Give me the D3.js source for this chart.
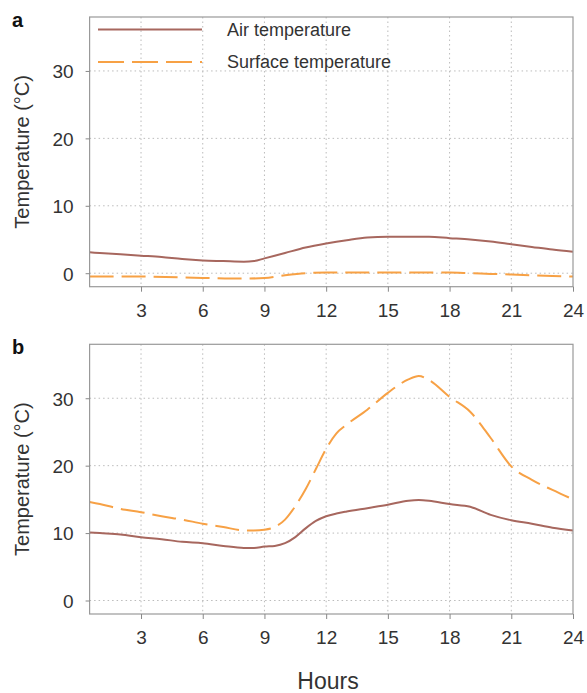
<!DOCTYPE html>
<meta charset="utf-8">
<style>
body { margin: 0; background: #fff; }
svg { font-family: "Liberation Sans", Arial, sans-serif; }
.grid line { stroke: #bbb; stroke-dasharray: 1.5,3; }
.axis path { display: none; }
.axis line { stroke: #888; }
.axis text { fill: #333; font-size: 19px; }
</style>
<body>
<svg id="chart" width="587" height="693"></svg>
<script src="https://cdn.jsdelivr.net/npm/d3@7"></script>
<script>

// hours of day for each series
var hoursAirA  = [0.5, 1, 2, 3, 4, 5, 6, 7, 8, 8.5, 9, 10, 11, 12, 13, 14, 15, 16, 17, 18, 19, 20, 21, 22, 23, 24];
var airA       = [3.1, 3.0, 2.8, 2.6, 2.4, 2.1, 1.9, 1.8, 1.7, 1.8, 2.2, 3.0, 3.8, 4.4, 4.9, 5.3, 5.4, 5.4, 5.4, 5.2, 5.0, 4.7, 4.3, 3.9, 3.5, 3.2];
var hoursSurfA = [0.5, 3, 6, 8, 9, 10, 11, 12, 15, 18, 19, 20, 21, 22, 23, 24];
var surfA      = [-0.5, -0.5, -0.7, -0.8, -0.7, -0.3, 0, 0.1, 0.1, 0.1, 0, -0.1, -0.2, -0.3, -0.4, -0.5];

var hoursB = [0.5, 1, 2, 3, 4, 5, 6, 7, 8, 8.5, 9, 9.5, 10, 10.5, 11, 11.5, 12, 12.5, 13, 14, 15, 16, 16.5, 17, 18, 19, 20, 21, 22, 23, 24];
var airB   = [10.1, 10.0, 9.8, 9.4, 9.1, 8.7, 8.5, 8.1, 7.8, 7.8, 8.0, 8.1, 8.5, 9.4, 10.7, 11.8, 12.5, 12.9, 13.2, 13.7, 14.2, 14.8, 14.9, 14.8, 14.3, 13.9, 12.7, 11.9, 11.4, 10.8, 10.4];
var surfB  = [14.6, 14.3, 13.6, 13.1, 12.5, 12.0, 11.4, 10.9, 10.4, 10.4, 10.5, 10.9, 12.0, 14.0, 16.5, 19.5, 22.5, 24.8, 26.1, 28.3, 30.8, 32.8, 33.3, 32.7, 30.2, 28.0, 24.1, 19.9, 17.9, 16.4, 15.0];

var xTicks = [3, 6, 9, 12, 15, 18, 21, 24];
var yTicks = [0, 10, 20, 30];

var seriesNames = ["Air temperature", "Surface temperature"];
var colors = { "Air temperature": "#a7675e", "Surface temperature": "#f7a145" };
var dashes = { "Air temperature": null, "Surface temperature": "24,8" };

var svg = d3.select("svg#chart");

var left = 89.6, right = 573;

var x = d3.scaleLinear().domain([0.5, 24]).range([left, right]);

function panel(letter, top, bottom, air, hoursAir, surf, hoursSurf, showLegend) {
  var y = d3.scaleLinear().domain([-2, 38]).range([bottom, top]);
  var g = svg.append("g");

  // dotted grid
  var grid = g.append("g").attr("class", "grid");
  grid.selectAll(".gx").data(xTicks.slice(0, -1)).enter().append("line")
      .attr("x1", d => x(d)).attr("x2", d => x(d))
      .attr("y1", top).attr("y2", bottom);
  grid.selectAll(".gy").data(yTicks).enter().append("line")
      .attr("x1", left).attr("x2", right)
      .attr("y1", d => y(d)).attr("y2", d => y(d));

  var line = d3.line().curve(d3.curveMonotoneX)
      .x(d => x(d[0])).y(d => y(d[1]));

  var lines = [
    { name: "Surface temperature", pts: d3.zip(hoursSurf, surf) },
    { name: "Air temperature", pts: d3.zip(hoursAir, air) }
  ];
  g.selectAll(".serie").data(lines).enter().append("path")
      .attr("d", d => line(d.pts))
      .attr("fill", "none")
      .attr("stroke", d => colors[d.name])
      .attr("stroke-width", 2)
      .attr("stroke-dasharray", d => dashes[d.name]);

  // frame
  g.append("rect")
      .attr("x", left).attr("y", top)
      .attr("width", right - left).attr("height", bottom - top)
      .attr("fill", "none").attr("stroke", "#999").attr("stroke-width", 1.2);

  g.append("g").attr("class", "axis")
      .attr("transform", "translate(0," + bottom + ")")
      .call(d3.axisBottom(x).tickValues(xTicks).tickSize(5).tickPadding(12));
  g.append("g").attr("class", "axis")
      .attr("transform", "translate(" + left + ",0)")
      .call(d3.axisLeft(y).tickValues(yTicks).tickSize(4).tickPadding(12))
    .selectAll("text").attr("dy", "0.36em");

  g.append("text")
      .attr("transform", "translate(29," + ((top + bottom) / 2) + ") rotate(-90)")
      .attr("text-anchor", "middle")
      .style("font-size", "20px").style("fill", "#333")
      .text("Temperature (\u00B0C)");

  g.append("text")
      .attr("x", 12).attr("y", top + 10)
      .style("font-size", "20px").style("font-weight", "bold").style("fill", "#111")
      .text(letter);

  if (showLegend) {
    var legend = g.selectAll(".legend").data(seriesNames).enter().append("g")
        .attr("transform", (d, i) => "translate(0," + (29.5 + i * 32.5) + ")");
    legend.append("line")
        .attr("x1", 98).attr("x2", 202)
        .attr("stroke", d => colors[d]).attr("stroke-width", 2)
        .attr("stroke-dasharray", d => d === "Surface temperature" ? "26,8" : null);
    legend.append("text")
        .attr("x", 227).attr("dy", "0.35em")
        .style("font-size", "18px").style("fill", "#333")
        .text(d => d);
  }
}

panel("a", 17, 286.7, airA, hoursAirA, surfA, hoursSurfA, true);
panel("b", 344.3, 614, airB, hoursB, surfB, hoursB, false);

svg.append("text")
    .attr("x", 328).attr("y", 689)
    .attr("text-anchor", "middle")
    .style("font-size", "23px").style("fill", "#333")
    .text("Hours");

</script>
